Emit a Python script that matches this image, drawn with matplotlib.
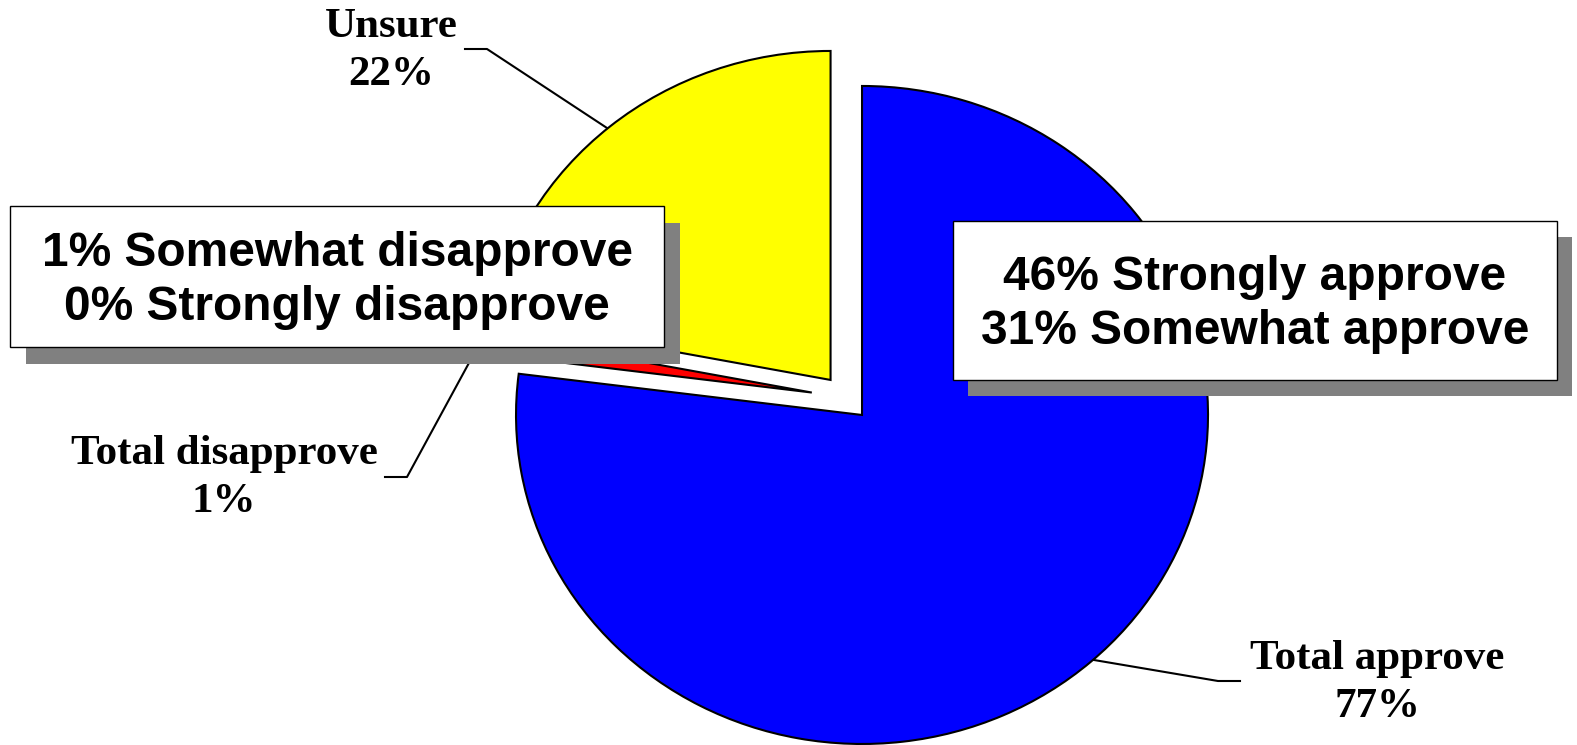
import matplotlib
matplotlib.use("Agg")
from matplotlib import pyplot as plt
from matplotlib.patches import Rectangle

# pie data
labels = ["Total approve", "Total disapprove", "Unsure"]
values = [77, 1, 22]
colors = ["#0000FF", "#FF0000", "#FFFF00"]
explode = [0.07, 0.10, 0.07]  # fraction of radius

# breakdown boxes
approve_box = ["46% Strongly approve", "31% Somewhat approve"]
disapprove_box = ["1% Somewhat disapprove", "0% Strongly disapprove"]

W, H = 1577, 745
R = 329
sx = 346 / 329.0  # pie is a bit wider than tall

fig = plt.figure(figsize=(W / 100, H / 100), dpi=100)
fig.patch.set_facecolor("white")

# pie axes (y up, x stretched)
ax = fig.add_axes([0, 0, 1, 1])
ax.pie(values, colors=colors, explode=[e * R for e in explode],
       startangle=90, counterclock=False,
       center=(846 / sx, H - 397.7), radius=R,
       wedgeprops=dict(edgecolor="black", linewidth=1.5))
ax.set_xlim(0, W / sx)
ax.set_ylim(0, H)
ax.set_aspect("auto")
ax.axis("off")

# overlay axes in pixel coordinates for leaders, boxes and text
ov = fig.add_axes([0, 0, 1, 1])
ov.set_xlim(0, W)
ov.set_ylim(H, 0)
ov.axis("off")
ov.patch.set_alpha(0)

lk = dict(color="black", linewidth=1.5, zorder=2)
ov.plot([465, 487, 607], [49, 49, 128], **lk)
ov.plot([385, 407, 476], [477, 477, 350], **lk)
ov.plot([1240, 1218, 1094], [681, 681, 660], **lk)

serif = dict(family="Liberation Serif", weight="bold", fontsize=31,
             ha="center", va="center", linespacing=1.35, zorder=5)
ov.text(391, 51, f"{labels[2]}\n{values[2]}%", **serif)
ov.text(224, 478, f"{labels[1]}\n{values[1]}%", **serif)
ov.text(1377, 683, f"{labels[0]}\n{values[0]}%", **serif)


def box(x0, y0, x1, y1, lines, dx=16, dy=17):
    ov.add_patch(Rectangle((x0 + dx, y0 + dy), x1 - x0, y1 - y0,
                           facecolor="#808080", edgecolor="none", zorder=3))
    ov.add_patch(Rectangle((x0, y0), x1 - x0, y1 - y0,
                           facecolor="white", edgecolor="black", linewidth=1, zorder=4))
    ov.text((x0 + x1) / 2, (y0 + y1) / 2 + 4, "\n".join(lines),
            family="Liberation Sans", weight="bold", fontsize=34.5,
            ha="center", va="center", linespacing=1.28, zorder=5)


box(10, 206, 664, 347, disapprove_box)
box(953, 221, 1557, 380, approve_box, dx=15, dy=16)

fig.savefig("out.png", dpi=100)
